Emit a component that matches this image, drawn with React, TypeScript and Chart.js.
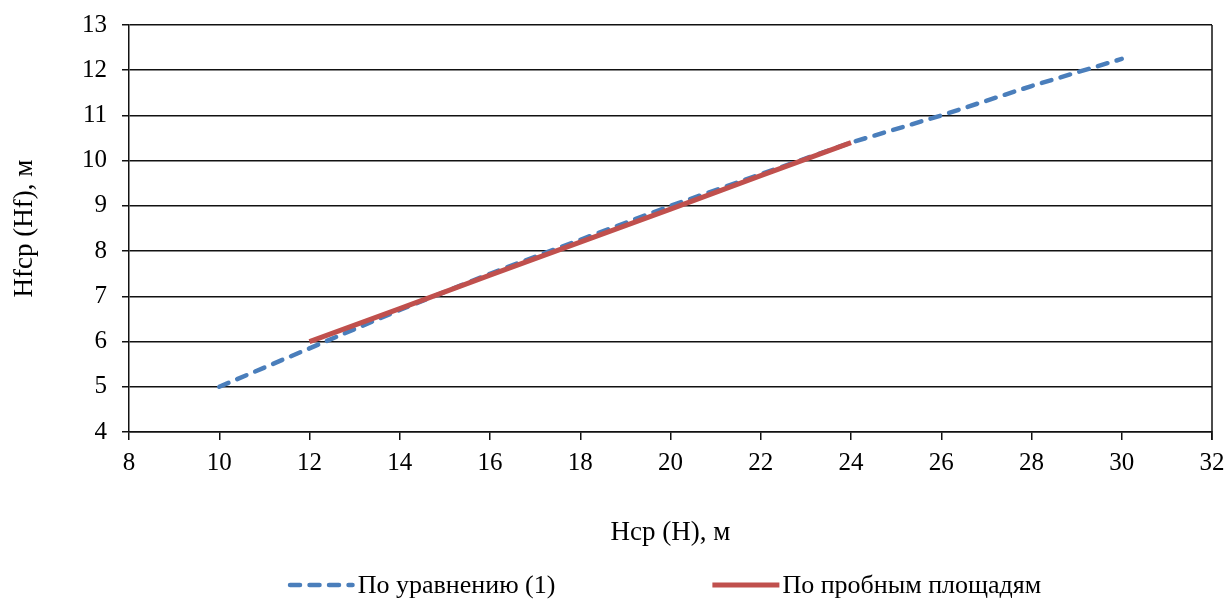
import React, { useEffect, useRef } from "react";
import { Chart, registerables } from "chart.js";

Chart.register(...registerables);

// Mean stand height H (m) and mean height Hf (m)
const equationHeights = [10, 12, 14, 16, 18, 20, 22, 24, 26, 28, 30];
const equationValues = [5.0, 5.85, 6.7, 7.5, 8.25, 9.0, 9.7, 10.4, 11.0, 11.65, 12.25];
const plotHeights = [12, 14, 16, 18, 20, 22, 24];
const plotValues = [6.0, 6.73, 7.47, 8.2, 8.93, 9.67, 10.4];

const seriesLabels = ["По уравнению (1)", "По пробным площадям"];
const xTitle = "Hср (H), м";
const yTitle = "Hfср (Hf), м";

const FONT = '"Liberation Serif", "Times New Roman", serif';
const BLUE = "#4a7ebb";
const RED = "#c0504d";
const LINE = "#111";

// Legend row drawn below the x-axis title, one line sample + label per dataset
const legendRow = {
  id: "legendRow",
  afterDraw(chart: any) {
    const { ctx, chartArea } = chart;
    const sample = 67;
    const textGap = 3;
    const itemGap = 157;
    const y = 585;
    ctx.save();
    ctx.font = `26px ${FONT}`;
    ctx.textBaseline = "middle";
    ctx.textAlign = "left";
    const items = chart.data.datasets.map((ds: any) => ({
      ds,
      w: ctx.measureText(ds.label).width,
    }));
    const total =
      items.reduce((s: number, it: any) => s + sample + textGap + it.w, 0) +
      itemGap * (items.length - 1);
    let x = (chartArea.left + chartArea.right) / 2 - 6 - total / 2;
    for (const { ds, w } of items) {
      ctx.beginPath();
      ctx.strokeStyle = ds.borderColor;
      ctx.lineWidth = ds.borderWidth;
      ctx.lineCap = ds.borderCapStyle || "butt";
      ctx.setLineDash(ds.borderDash || []);
      const inset = ds.borderCapStyle === "round" ? ds.borderWidth / 2 : 0;
      ctx.moveTo(x + inset, y);
      ctx.lineTo(x + sample - inset, y);
      ctx.stroke();
      ctx.setLineDash([]);
      ctx.fillStyle = "#000";
      ctx.fillText(ds.label, x + sample + textGap, y + 1);
      x += sample + textGap + w + itemGap;
    }
    ctx.restore();
  },
};

// Right-hand frame of the plot area
const plotFrame = {
  id: "plotFrame",
  beforeDatasetsDraw(chart: any) {
    const { ctx, chartArea } = chart;
    ctx.save();
    ctx.strokeStyle = LINE;
    ctx.lineWidth = 1.5;
    const x = Math.round(chartArea.right);
    ctx.beginPath();
    ctx.moveTo(x, chartArea.top);
    ctx.lineTo(x, chartArea.bottom + 8);
    ctx.stroke();
    ctx.restore();
  },
};

export default function App() {
  const canvasRef = useRef<HTMLCanvasElement | null>(null);

  useEffect(() => {
    if (!canvasRef.current) return;
    const chart = new Chart(canvasRef.current, {
      type: "line",
      data: {
        datasets: [
          {
            label: seriesLabels[0],
            data: equationHeights.map((h, i) => ({ x: h, y: equationValues[i] })),
            borderColor: BLUE,
            backgroundColor: BLUE,
            borderWidth: 4.5,
            borderDash: [10, 9.5],
            borderCapStyle: "round",
            pointRadius: 0,
            tension: 0,
            order: 1,
          },
          {
            label: seriesLabels[1],
            data: plotHeights.map((h, i) => ({ x: h, y: plotValues[i] })),
            borderColor: RED,
            backgroundColor: RED,
            borderWidth: 5,
            pointRadius: 0,
            tension: 0,
            order: 0,
          },
        ],
      },
      options: {
        animation: false,
        responsive: true,
        maintainAspectRatio: false,
        layout: { padding: { left: 0, right: 14, top: 25, bottom: 50 } },
        plugins: {
          legend: { display: false },
          tooltip: { enabled: false },
        },
        scales: {
          x: {
            type: "linear",
            min: 8,
            max: 32,
            afterFit: (scale: any) => {
              scale.height = 117;
              scale.paddingLeft = 0;
              scale.paddingRight = 0;
            },
            ticks: {
              stepSize: 2,
              color: "#000",
              padding: 8,
              font: { family: FONT, size: 25 },
            },
            grid: {
              drawOnChartArea: false,
              drawTicks: true,
              tickLength: 8,
              color: LINE,
              lineWidth: 1.5,
            },
            border: { display: true, color: LINE, width: 1.5 },
            title: {
              display: true,
              text: xTitle,
              color: "#000",
              padding: { top: 0, bottom: 0 },
              font: { family: FONT, size: 27 },
            },
          },
          y: {
            type: "linear",
            min: 4,
            max: 13,
            afterFit: (scale: any) => {
              scale.width = 129;
              scale.paddingTop = 0;
              scale.paddingBottom = 0;
            },
            ticks: {
              stepSize: 1,
              color: "#000",
              padding: 15,
              font: { family: FONT, size: 25 },
            },
            grid: {
              drawTicks: true,
              tickLength: 7,
              color: LINE,
              lineWidth: 1.5,
            },
            border: { display: true, color: LINE, width: 1.5 },
            title: {
              display: true,
              text: yTitle,
              color: "#000",
              padding: { top: 9, bottom: 0 },
              font: { family: FONT, size: 27 },
            },
          },
        },
      },
      plugins: [plotFrame, legendRow],
    });
    return () => chart.destroy();
  }, []);

  return (
    <div
      style={{
        position: "absolute",
        left: 0,
        top: 0,
        width: 1226,
        height: 599,
        background: "#fff",
      }}
    >
      <canvas ref={canvasRef} />
    </div>
  );
}
